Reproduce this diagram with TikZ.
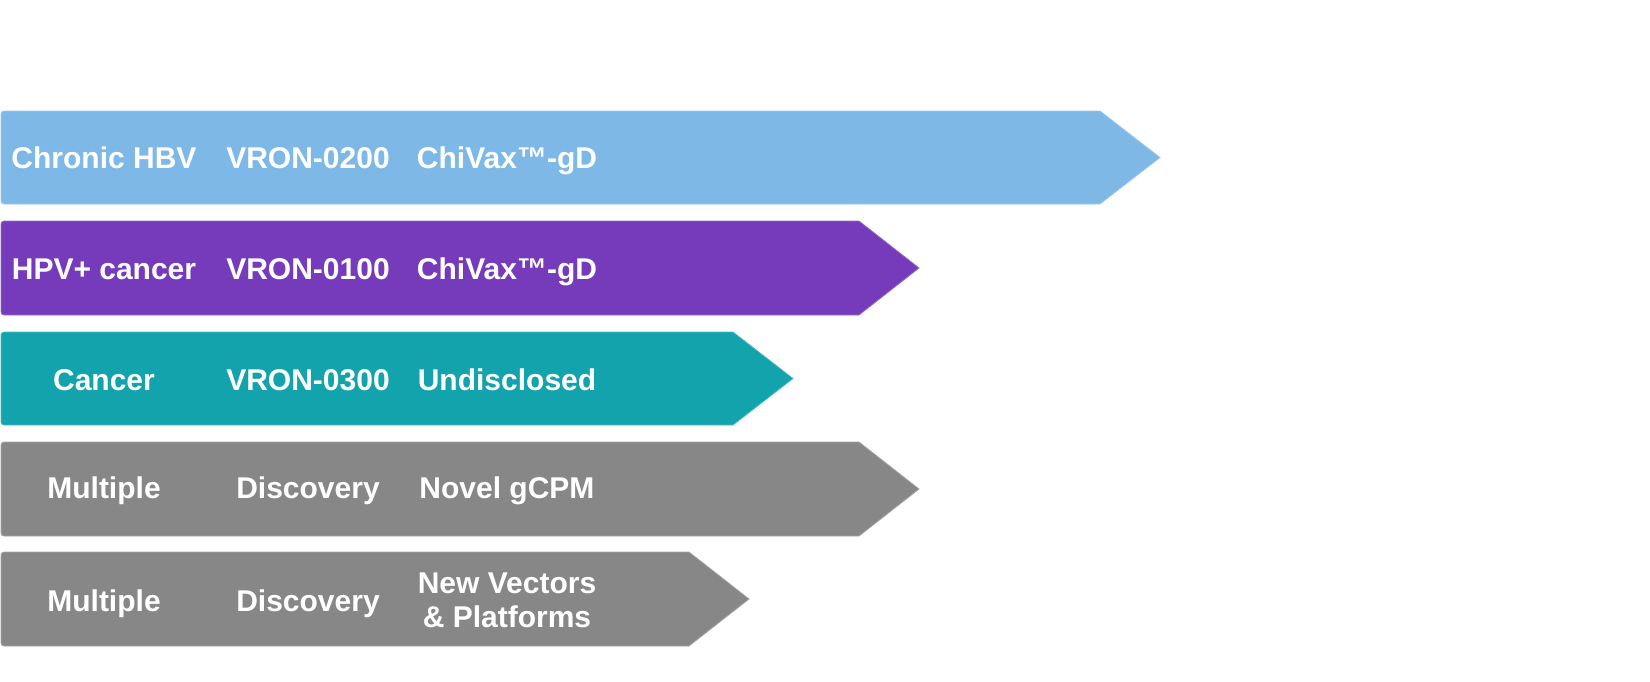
\documentclass[tikz,border=0pt]{standalone}
\usepackage{fontspec}
\setmainfont{Liberation Sans}
\definecolor{cblue}{HTML}{7DB8E6}
\definecolor{cpurple}{HTML}{763BBA}
\definecolor{cteal}{HTML}{13A3AD}
\definecolor{cgray}{HTML}{878787}
\newcommand\pipebar[4]{% color, top, bottom, right
  \pgfmathsetmacro\midy{(#2+#3)/2}
  \filldraw[fill=#1,draw=#1!75!white,line width=0.4pt] (#4+60,\midy) -- (#4,#2) [rounded corners=1.5pt] -- (1,#2) -- (1,#3) [sharp corners] -- (#4,#3) -- cycle;
}
\begin{document}
\begin{tikzpicture}[x=0.5pt,y=-0.5pt,
  lbl/.style={text=white,font=\fontsize{15}{17}\selectfont\bfseries,align=center,inner sep=0pt},
  lblb/.style={lbl,anchor=base}]
\useasboundingbox (0,0) rectangle (1650,681);
\pipebar{cblue}{111}{204}{1100}
\pipebar{cpurple}{221}{315}{859}
\pipebar{cteal}{332}{425}{733}
\pipebar{cgray}{442}{536}{859}
\pipebar{cgray}{552}{646}{689}
\node[lblb] (a1) at (104,168) {Chronic HBV};
\node[lblb] (b1) at (308,168) {VRON-0200};
\node[lblb] (c1) at (507,168) {ChiVax™-gD};
\node[lblb] (a2) at (104,279) {HPV+ cancer};
\node[lblb] (b2) at (308,279) {VRON-0100};
\node[lblb] (c2) at (507,279) {ChiVax™-gD};
\node[lblb] (a3) at (104,390) {Cancer};
\node[lblb] (b3) at (308,390) {VRON-0300};
\node[lblb] (c3) at (507,390) {Undisclosed};
\node[lblb] (a4) at (104,498) {Multiple};
\node[lblb] (b4) at (308,498) {Discovery};
\node[lblb] (c4) at (507,498) {Novel gCPM};
\node[lblb] (a5) at (104,611) {Multiple};
\node[lblb] (b5) at (308,611) {Discovery};
\node[lbl] (c5) at (507,600) {New Vectors\\\& Platforms};
\end{tikzpicture}
\end{document}
